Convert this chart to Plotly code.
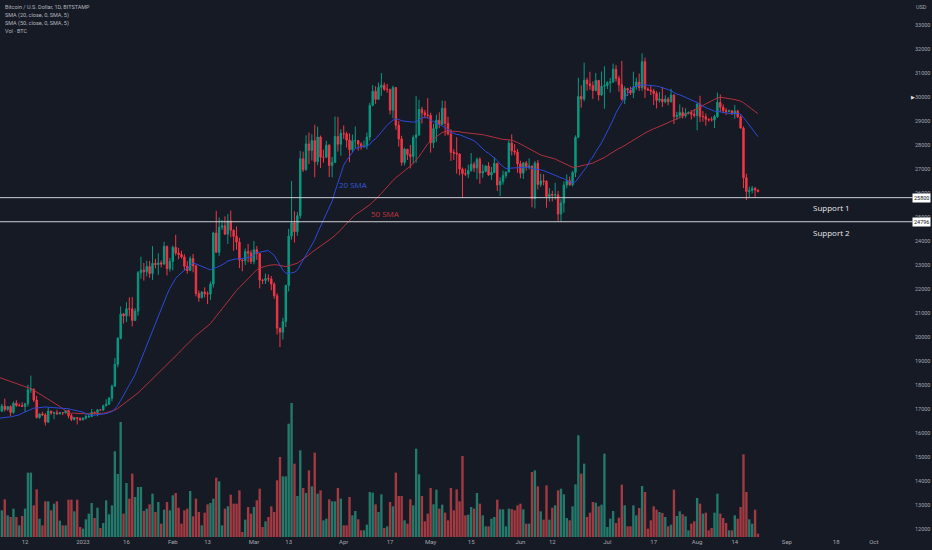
import pandas as pd
import plotly.graph_objects as go

# closes Oct 14 - Dec 2 2022, only used to warm up the moving averages
warmup_close = [19180, 19070, 19270, 19550, 19330, 19130, 19040, 19170, 19210, 19570, 19330, 20090,
                20770, 20290, 20600, 20810, 20630, 20490,
                20480, 20160, 20210, 21150, 21300, 20920, 20600, 18540, 15880, 17590, 17070, 16810,
                16330, 16620, 16900, 16660, 16690, 16700, 16700, 16280, 15780, 16230, 16600, 16600,
                16520, 16460, 16440, 16220, 16440, 17160, 16980, 17090]

# daily BTC/USD from Dec 3 2022 to Aug 22 2023
dec_close = [16890, 17110, 16970, 17090, 16840, 17230, 17130, 17130, 17090, 17210, 17780, 17810, 17360,
             16630, 16780, 16740, 16440, 16900, 16820, 16830, 16780, 16840, 16830, 16920, 16710, 16550,
             16630, 16600, 16540]
dec_high = [17160, 17200, 17420, 17110, 17140, 17300, 17350, 17220, 17270, 17240, 18000, 18380, 17850,
            17530, 16800, 16870, 16820, 17050, 16900, 16870, 16950, 16860, 16860, 16940, 16960, 16780,
            16650, 16640, 16630]
dec_low = [16860, 16880, 16880, 16910, 16690, 16790, 17080, 17100, 17070, 16870, 17090, 17660, 17280,
           16590, 16580, 16700, 16300, 16400, 16750, 16560, 16760, 16770, 16730, 16790, 16600, 16480,
           16510, 16340, 16490]
dec_vol = [2400, 2400, 3390, 1950, 1800, 2550, 1800, 1050, 1890, 2550, 5790, 5790, 2850, 4290, 1650,
           1050, 3210, 3210, 2400, 3000, 3210, 1470, 1050, 1050, 3360, 3360, 2310, 3360, 900]

jan_close = [16610, 16670, 16670, 16850, 16830, 16950, 16940, 17120, 17190, 17440, 17940, 18850, 19930,
             20950, 20870, 21170, 21160, 20680, 21070, 22670, 22780, 22710, 22930, 22640, 23060, 23010,
             23080, 23030, 23770, 22840, 23140]
jan_high = [16630, 16760, 16780, 16990, 16880, 16990, 16970, 17170, 17390, 17480, 18000, 19110, 19990,
            21260, 20990, 21440, 21640, 21650, 21190, 22740, 23340, 23080, 23170, 23160, 23780, 23250,
            23480, 23180, 23960, 23800, 23290]
jan_low = [16500, 16550, 16610, 16660, 16750, 16680, 16910, 16910, 17100, 17150, 17310, 17910, 18730,
           19890, 20550, 20610, 20850, 20430, 20660, 20880, 22420, 22340, 22520, 22460, 22370, 22850,
           22580, 22890, 23000, 22560, 22720]
jan_vol = [750, 1590, 2100, 3060, 1710, 2640, 810, 1260, 3300, 2040, 2850, 7710, 5670, 10350, 2100,
           4860, 3450, 5700, 3600, 4500, 4500, 2340, 2550, 2940, 3900, 2250, 3150, 1200, 2460, 3150, 2400]

feb_close = [23730, 23490, 23430, 23330, 22940, 22760, 23260, 22960, 21800, 21630, 21860, 21790, 21780,
             22200, 24330, 23520, 24570, 24630, 24280, 24830, 24440, 24190, 23950, 23200, 23170, 23550,
             23490, 23140]
feb_high = [23800, 24250, 23710, 23590, 23440, 23150, 23350, 23450, 22990, 21930, 21900, 22060, 21890,
            22300, 24380, 25250, 24970, 24870, 25020, 25120, 25260, 24480, 24600, 24120, 23230, 23680,
            23870, 23600]
feb_low = [22770, 23390, 23230, 23260, 22760, 22630, 22760, 22690, 21690, 21460, 21600, 21640, 21360,
           21540, 22050, 23510, 23370, 24450, 24240, 23870, 24150, 23590, 23630, 22860, 22730, 22990,
           23100, 23040]
feb_vol = [3750, 3960, 2640, 1200, 2400, 2550, 4140, 1860, 3450, 2250, 1050, 2190, 2940, 3060, 3450,
           5340, 5010, 1050, 2550, 2760, 3810, 3000, 3000, 4200, 450, 1560, 2700, 2100]

mar_close = [23630, 23470, 22360, 22350, 22430, 22410, 22200, 21710, 20360, 20190, 20630, 22140, 24200,
             24750, 24380, 25050, 27420, 26970, 28040, 27770, 28180, 27300, 28330, 27490, 27490, 27990,
             27140, 27270, 28350, 28030, 28480]
mar_high = [23990, 23780, 23480, 22420, 22630, 22600, 22530, 22270, 21810, 20370, 20790, 22170, 24500,
            26500, 25230, 25200, 27750, 27720, 28400, 28520, 28450, 28840, 28760, 28390, 27800, 28170,
            28030, 27500, 29180, 29170, 28650]
mar_low = [23020, 23210, 22020, 22200, 22200, 22290, 21940, 21590, 20090, 19570, 19880, 20400, 21890,
           24050, 23930, 24210, 24930, 26870, 26920, 27200, 27350, 26650, 27150, 27040, 27260, 27450,
           26660, 26650, 27250, 27720, 27550]
mar_vol = [2700, 3300, 4350, 900, 1410, 1800, 2760, 2250, 5100, 7200, 5460, 5460, 10200, 12060, 6600,
           3690, 7800, 4410, 3960, 6000, 4560, 7590, 3900, 4200, 1500, 1650, 3390, 3210, 3210, 4410, 3450]

apr_close = [28460, 28200, 27800, 28170, 28180, 28040, 27920, 27950, 28330, 29650, 30240, 29900, 30400,
             30490, 30320, 30320, 29450, 30390, 28820, 28250, 27270, 27820, 27600, 27520, 28310, 28420,
             29480, 29340, 29250, 29230]
apr_high = [28810, 28550, 28480, 28430, 28770, 28190, 28110, 28180, 28520, 29760, 30500, 30450, 30600,
            31000, 30600, 30540, 30330, 30470, 30420, 29000, 28380, 27880, 27820, 28000, 28400, 30030,
            29880, 29590, 29460, 29950]
apr_low = [28250, 27890, 27280, 27690, 27850, 27760, 27800, 27890, 27820, 28180, 29610, 29710, 29880,
           30050, 30250, 30180, 29270, 29110, 28630, 27930, 27130, 27150, 27370, 27020, 27210, 27260,
           28380, 28890, 29110, 29100]
apr_vol = [1050, 1050, 3600, 1950, 2340, 1590, 600, 600, 1110, 4050, 3990, 2940, 2250, 3840, 810, 960,
           3150, 2760, 5790, 3690, 3690, 1500, 1200, 3390, 2850, 7950, 5640, 3690, 1410, 2100]

may_close = [28090, 28680, 29030, 28850, 29530, 28900, 28450, 27690, 27660, 27620, 26990, 26800, 26780,
             26930, 27190, 27040, 27400, 26830, 26890, 27120, 26750, 26850, 27230, 26330, 26480, 26720,
             26870, 28080, 27750, 27700, 27210]
may_high = [29340, 28880, 29260, 29360, 29850, 29830, 29170, 28650, 27820, 28320, 27640, 27060, 27020,
            27180, 27660, 27290, 27480, 27480, 27190, 27150, 27280, 27080, 27490, 27240, 26640, 26930,
            26890, 28200, 28440, 28040, 27830]
may_low = [27680, 27870, 28130, 28700, 28820, 28380, 28400, 27330, 27370, 26800, 26730, 25810, 26700,
           26620, 26880, 26870, 26570, 26380, 26630, 26860, 26710, 26540, 26820, 26080, 25870, 26340,
           26600, 26860, 27560, 27570, 26840]
may_vol = [4410, 2940, 4260, 2550, 2910, 2190, 1500, 4410, 2400, 4290, 3210, 7290, 1950, 2010, 2700,
           2550, 3960, 3000, 1950, 960, 960, 1650, 1800, 3360, 2490, 2490, 960, 2550, 2520, 2400, 2850]

jun_close = [26820, 27250, 27070, 27120, 25760, 27240, 26350, 26500, 26480, 25850, 25940, 25900, 25920,
             25120, 25580, 26330, 26510, 26340, 26850, 28320, 30020, 29910, 30700, 30550, 30470, 30270,
             30690, 30080, 30450, 30480]
jun_high = [27340, 27290, 27330, 27440, 27140, 27330, 27370, 26800, 26780, 26530, 26200, 26090, 26420,
            26080, 25740, 26480, 26770, 26680, 26920, 28400, 30800, 30480, 31430, 30800, 31050, 30650,
            31000, 30700, 31060, 31280]
jun_low = [26610, 26580, 26920, 26980, 25400, 25350, 26140, 26250, 26310, 25380, 25640, 25640, 25720,
           24830, 24800, 25180, 26190, 26290, 26270, 26660, 28280, 29550, 29820, 30260, 30300, 29920,
           30230, 29850, 30040, 29510]
jun_vol = [3000, 2490, 1200, 1200, 5850, 6000, 4560, 2310, 1560, 4650, 1560, 2640, 2850, 4200, 4350,
           3840, 1710, 1500, 2760, 4740, 9150, 5700, 6600, 1800, 2190, 3150, 3090, 2760, 2910, 7500]

jul_close = [30590, 30620, 31160, 30770, 30510, 29900, 30350, 30290, 30170, 30420, 30620, 30390, 31470,
             30330, 30290, 30250, 30140, 29860, 29910, 29800, 29910, 29800, 30080, 29180, 29230, 29350,
             29210, 29320, 29350, 29280, 29230]
jul_high = [30660, 30790, 31390, 31330, 30880, 31500, 30450, 30380, 30430, 31050, 30800, 30980, 31820,
            31640, 30400, 30450, 30340, 30240, 30200, 30410, 30070, 29990, 30340, 30100, 29380, 29690,
            29570, 29530, 29400, 29450, 29500]
jul_low = [30330, 30180, 30580, 30640, 30220, 29850, 29700, 30040, 30080, 29950, 30300, 30250, 30260,
           29960, 30250, 30080, 29660, 29520, 29770, 29580, 29730, 29650, 29770, 28870, 29040, 29110,
           29100, 29130, 29270, 29060, 29140]
jul_vol = [900, 1650, 2340, 1260, 1740, 4710, 2850, 960, 960, 2850, 1950, 2610, 4590, 4050, 750, 1500,
           2760, 2460, 2250, 2160, 1800, 960, 1110, 4260, 1890, 2310, 2040, 1860, 600, 1200, 1410]

aug_close = [29700, 29180, 29180, 29070, 29050, 29040, 29180, 29770, 29570, 29430, 29400, 29420, 29290,
             29410, 29170, 28700, 26630, 26050, 26100, 26190, 26120, 26060]
aug_high = [29740, 30050, 29410, 29310, 29110, 29170, 29250, 30180, 30100, 29690, 29540, 29470, 29450,
            29670, 29470, 29240, 28770, 26800, 26260, 26290, 26250, 26140]
aug_low = [28610, 28950, 28970, 28800, 28970, 28980, 28700, 29120, 29370, 29320, 29250, 29360, 29260,
           29090, 29120, 28690, 26200, 25700, 25800, 25980, 25810, 26020]
aug_vol = [3510, 3000, 2100, 2190, 600, 810, 2190, 3900, 2100, 1710, 1260, 600, 600, 1950, 1650, 2700,
           7440, 4050, 1590, 1200, 2460, 300]

support_levels = [25800, 24796]
support_names = ["Support 1", "Support 2"]

tick_dates = ["2022-12-12", "2023-01-01", "2023-01-16", "2023-02-01", "2023-02-13", "2023-03-01",
              "2023-03-13", "2023-04-01", "2023-04-17", "2023-05-01", "2023-05-15", "2023-06-01",
              "2023-06-12", "2023-07-01", "2023-07-17", "2023-08-01", "2023-08-14", "2023-09-01",
              "2023-09-18", "2023-10-01"]
tick_labels = ["12", "2023", "16", "Feb", "13", "Mar", "13", "Apr", "17", "May", "15", "Jun", "12",
               "Jul", "17", "Aug", "14", "Sep", "18", "Oct"]
price_ticks = list(range(12000, 34000, 1000))

close = dec_close + jan_close + feb_close + mar_close + apr_close + may_close + jun_close + jul_close + aug_close
high = dec_high + jan_high + feb_high + mar_high + apr_high + may_high + jun_high + jul_high + aug_high
low = dec_low + jan_low + feb_low + mar_low + apr_low + may_low + jun_low + jul_low + aug_low
volume = dec_vol + jan_vol + feb_vol + mar_vol + apr_vol + may_vol + jun_vol + jul_vol + aug_vol
open_ = [warmup_close[-1]] + close[:-1]
dates = pd.date_range("2022-12-03", periods=len(close), freq="D")

all_close = pd.Series(warmup_close + close)
n0 = len(warmup_close)
sma20 = all_close.rolling(20).mean().iloc[n0:].values
sma50 = all_close.rolling(50).mean().iloc[n0:].values

bg = "#161a25"
green = "#089981"
red = "#f23645"
axis_col = "#a3a6af"
vol_colors = ["#237a6b" if c >= o else "#a33a41" for o, c in zip(open_, close)]

fig = go.Figure()
fig.add_trace(go.Bar(x=dates, y=volume, marker_color=vol_colors, marker_line_width=0,
                     width=86400000 * 0.82, yaxis="y2"))
fig.add_trace(go.Scatter(x=dates, y=sma50, mode="lines", line=dict(color="#b3303c", width=1)))
fig.add_trace(go.Scatter(x=dates, y=sma20, mode="lines", line=dict(color="#2c4ad6", width=1)))
fig.add_trace(go.Candlestick(x=dates, open=open_, high=high, low=low, close=close, whiskerwidth=0,
                             increasing=dict(line=dict(color=green, width=1), fillcolor=green),
                             decreasing=dict(line=dict(color=red, width=1), fillcolor=red)))

for lvl in support_levels:
    fig.add_shape(type="line", xref="paper", x0=0, x1=1.005, yref="y", y0=lvl, y1=lvl,
                  line=dict(color="#cfd1d6", width=1))
    fig.add_annotation(xref="paper", x=1, xanchor="left", xshift=4, y=lvl, yref="y", text=str(lvl),
                       showarrow=False, bgcolor="#ffffff", borderpad=1,
                       font=dict(family="Roboto", size=5.5, color="#131722"))

for name, y in zip(support_names, [25410, 24330]):
    fig.add_annotation(x="2023-09-16 12:00", y=y, text=name, showarrow=False,
                       font=dict(family="Open Sans", size=8, color="#e8e9ec"))

fig.add_annotation(x="2023-04-04 12:00", y=26350, text="20 SMA", showarrow=False,
                   font=dict(family="Open Sans", size=8, color="#3556d8"))
fig.add_annotation(x="2023-04-15 14:00", y=25120, text="50 SMA", showarrow=False,
                   font=dict(family="Open Sans", size=8, color="#c0353f"))

legend_lines = ["Bitcoin / U.S. Dollar, 1D, BITSTAMP", "SMA (20, close, 0, SMA, 5)",
                "SMA (50, close, 0, SMA, 5)", "Vol · BTC"]
for i, txt in enumerate(legend_lines):
    fig.add_annotation(xref="paper", yref="paper", x=0, y=1, xanchor="left", yanchor="middle",
                       xshift=3, yshift=-7 - 8 * i, text=txt, showarrow=False,
                       font=dict(family="Roboto", size=5.5, color="#b2b5be"))

fig.add_annotation(xref="paper", yref="paper", x=1, y=1, xanchor="left", yanchor="middle", xshift=6,
                   yshift=-7, text="USD", showarrow=False, font=dict(family="Roboto", size=5.5, color=axis_col))
fig.add_annotation(xref="paper", x=1, xanchor="left", xshift=1, y=30000, yref="y", text="▶",
                   showarrow=False, font=dict(size=5, color="#e0e0e0"))

fig.update_layout(
    width=932, height=550,
    margin=dict(l=0, r=24, t=0, b=13),
    paper_bgcolor=bg, plot_bgcolor=bg,
    showlegend=False,
    xaxis=dict(type="date", range=["2022-12-03 08:24", "2023-10-12 19:00"], rangeslider_visible=False,
               showgrid=False, zeroline=False, showline=False, ticks="",
               tickvals=tick_dates, ticktext=tick_labels,
               tickfont=dict(family="Roboto", size=6, color=axis_col)),
    yaxis=dict(side="right", range=[11649, 34043], tickvals=price_ticks, ticktext=[str(p) for p in price_ticks],
               showgrid=False, zeroline=False, ticks="", ticklabelstandoff=6,
               tickfont=dict(family="Roboto", size=5.5, color=axis_col)),
    yaxis2=dict(overlaying="y", range=[0, 48330], visible=False),
)

fig.write_html("out.html", config={"displayModeBar": False},
               post_script="document.body.style.margin='0';document.body.style.background='#161a25';")
